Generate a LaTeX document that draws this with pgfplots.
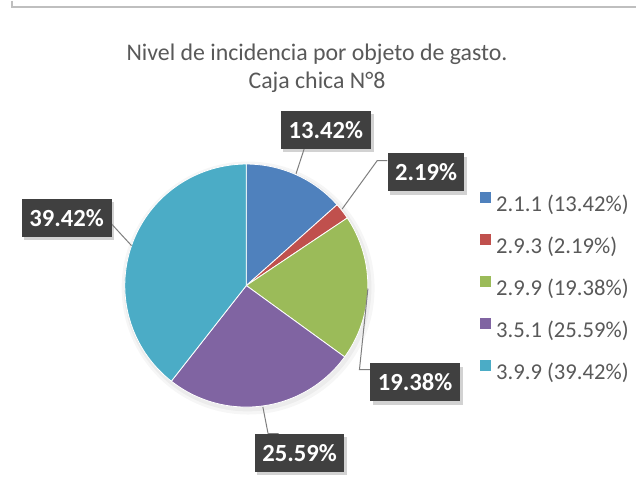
\documentclass[border=0pt]{standalone}
\usepackage{fontspec}
\setmainfont{Carlito}
\usepackage{pgfplots}
\pgfplotsset{compat=1.18}
\usetikzlibrary{shadows}
\definecolor{c1}{HTML}{4F81BD}
\definecolor{c2}{HTML}{C0504D}
\definecolor{c3}{HTML}{9BBB59}
\definecolor{c4}{HTML}{8064A2}
\definecolor{c5}{HTML}{4BACC6}
\definecolor{boxc}{HTML}{404040}
\definecolor{txt}{HTML}{595959}
\definecolor{lead}{HTML}{7F7F7F}
\definecolor{framec}{HTML}{BFBFBF}
\begin{document}
\begin{tikzpicture}
\begin{axis}[width=477.75pt,height=363pt,scale only axis,
  xmin=0,xmax=637,ymin=0,ymax=484,axis lines=none,clip=false,
  legend image code/.code={\path[#1,draw=none] (0pt,0.9pt) rectangle (8.25pt,9.15pt);},
  legend style={at={(axis cs:480.7,293)},anchor=north west,draw=none,fill=none,
    inner sep=0pt,font=\fontsize{17}{20}\selectfont,text=txt,row sep=15.4pt,
    column sep=3.75pt,cells={anchor=west},nodes={inner sep=0pt}},
  ]
\fill[white] (axis cs:0,0) rectangle (axis cs:637,484);
\addplot[forget plot,framec,line width=1.5pt] coordinates {(12,484) (12,477.5) (637,477.5)};
% soft shadow of the pie
\fill[black,opacity=0.035] (axis cs:248.5,196.5) circle [radius=95pt];
\fill[black,opacity=0.04] (axis cs:248,197) circle [radius=93pt];
% slices (angles from cumulative percentages, clockwise from 90 deg)
\addplot[fill=c1,draw=white,line width=0.6pt,domain=41.688:90,samples=40] ({246.7+121.7*cos(x)},{199+121.7*sin(x)}) -- (axis cs:246.7,199) -- cycle;
\addplot[fill=c2,draw=white,line width=0.6pt,domain=33.804:41.688,samples=10] ({246.7+121.7*cos(x)},{199+121.7*sin(x)}) -- (axis cs:246.7,199) -- cycle;
\addplot[fill=c3,draw=white,line width=0.6pt,domain=-35.964:33.804,samples=50] ({246.7+121.7*cos(x)},{199+121.7*sin(x)}) -- (axis cs:246.7,199) -- cycle;
\addplot[fill=c4,draw=white,line width=0.6pt,domain=-128.088:-35.964,samples=60] ({246.7+121.7*cos(x)},{199+121.7*sin(x)}) -- (axis cs:246.7,199) -- cycle;
\addplot[fill=c5,draw=white,line width=0.6pt,domain=-270:-128.088,samples=90] ({246.7+121.7*cos(x)},{199+121.7*sin(x)}) -- (axis cs:246.7,199) -- cycle;
\legend{2.1.1 (13.42\%),2.9.3 (2.19\%),2.9.9 (19.38\%),3.5.1 (25.59\%),3.9.9 (39.42\%)}
% leader lines
\addplot[forget plot,lead,line width=0.75pt] coordinates {(305,337) (296.5,311)};
\addplot[forget plot,lead,line width=0.75pt] coordinates {(388,324) (377.7,324) (342.7,275.7)};
\addplot[forget plot,lead,line width=0.75pt] coordinates {(368.5,196) (360,114.7) (371.7,114.7)};
\addplot[forget plot,lead,line width=0.75pt] coordinates {(263.3,77.3) (268.5,50.7) (279,50.7)};
\addplot[forget plot,lead,line width=0.75pt] coordinates {(111.7,260.7) (131.7,239)};
% labels
\tikzset{lbl/.style={fill=boxc,text=white,inner sep=0pt,minimum height=28.5pt,
  font=\fontsize{18.5}{21}\selectfont\bfseries,
  drop shadow={opacity=0.35,shadow xshift=2pt,shadow yshift=-2.5pt}}}
\node[lbl,minimum width=68pt] at (axis cs:326.3,354.8) {13.42\%};
\node[lbl,minimum width=57.5pt] at (axis cs:426.7,312.3) {2.19\%};
\node[lbl,minimum width=67.5pt] at (axis cs:66.7,267) {39.42\%};
\node[lbl,minimum width=67.3pt] at (axis cs:415.8,102) {19.38\%};
\node[lbl,minimum width=67.5pt] at (axis cs:300,31.5) {25.59\%};
% title
\node[anchor=base,text=txt,font=\fontsize{17.9}{21}\selectfont] at (axis cs:317.5,424) {Nivel de incidencia por objeto de gasto.};
\node[anchor=base,text=txt,font=\fontsize{17.9}{21}\selectfont] at (axis cs:317.5,396.7) {Caja chica N°8};
\end{axis}
\end{tikzpicture}
\end{document}
